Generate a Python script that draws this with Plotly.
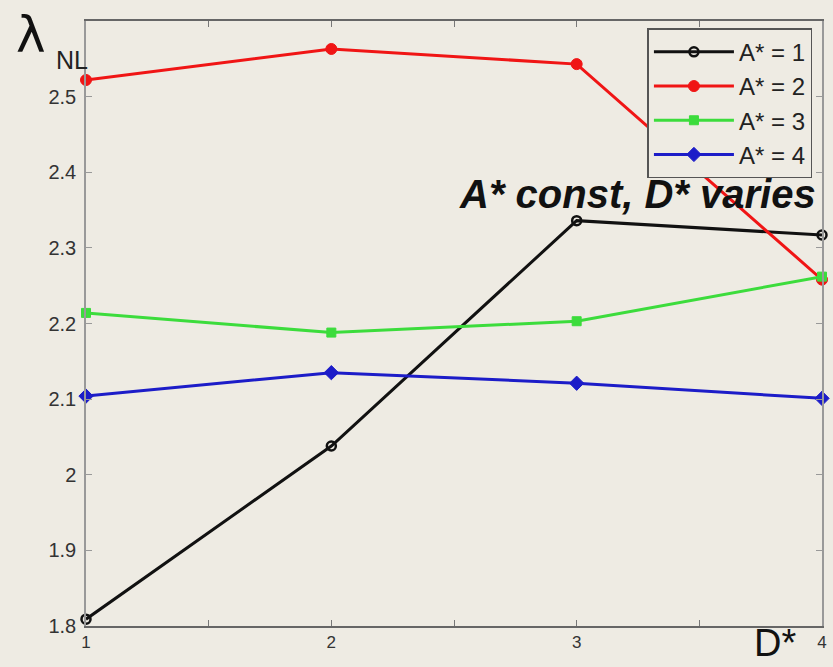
import plotly.graph_objects as go

D_star = [1, 2, 3, 4]
lam_A1 = [1.809, 2.038, 2.336, 2.317]
lam_A2 = [2.522, 2.563, 2.543, 2.258]
lam_A3 = [2.214, 2.188, 2.203, 2.262]
lam_A4 = [2.104, 2.135, 2.121, 2.101]
series_names = ["A* = 1", "A* = 2", "A* = 3", "A* = 4"]

x_tickvals = [1, 1.5, 2, 2.5, 3, 3.5, 4]
x_ticktext = ["1", "", "2", "", "3", "", "4"]
y_tickvals = [1.8, 1.9, 2.0, 2.1, 2.2, 2.3, 2.4, 2.5]
y_ticktext = ["1.8", "1.9", "2", "2.1", "2.2", "2.3", "2.4", "2.5"]

bg = "#EEEBE3"
fig = go.Figure()

styles = [
    dict(color="#111111", symbol="circle-open", size=9, lw=3),
    dict(color="#F01515", symbol="circle", size=11, lw=3),
    dict(color="#3CDC3C", symbol="square", size=9, lw=3),
    dict(color="#1C1CC8", symbol="diamond", size=11, lw=3),
]
for ys, name, st in zip([lam_A1, lam_A2, lam_A3, lam_A4], series_names, styles):
    fig.add_trace(go.Scatter(
        x=D_star, y=ys, name=name, mode="lines+markers",
        line=dict(color=st["color"], width=st["lw"]),
        marker=dict(color=st["color"], symbol=st["symbol"], size=st["size"],
                    line=dict(color=st["color"], width=2.5 if st["symbol"] == "circle-open" else 1)),
        cliponaxis=False,
    ))

fig.update_layout(
    width=833, height=667,
    margin=dict(l=86, r=6, t=21, b=41),
    paper_bgcolor=bg, plot_bgcolor=bg,
    font=dict(family="Liberation Sans, Arial, sans-serif", color="#222"),
    showlegend=True,
    legend=dict(
        x=0.987, y=0.988, xanchor="right", yanchor="top",
        bgcolor=bg, bordercolor="#555", borderwidth=1.5,
        font=dict(size=24, color="#222"),
        itemwidth=80, tracegroupgap=0,
    ),
    xaxis=dict(
        range=[1, 4], tickmode="array", tickvals=x_tickvals, ticktext=x_ticktext,
        ticks="inside", ticklen=6, tickcolor="#777", showgrid=False, zeroline=False,
        showline=True, linecolor="#666", linewidth=2, mirror="ticks",
        tickfont=dict(size=17, color="#333"),
    ),
    yaxis=dict(
        range=[1.8, 2.6], tickmode="array", tickvals=y_tickvals, ticktext=y_ticktext,
        ticks="inside", ticklen=6, tickcolor="#999", showgrid=False, zeroline=False,
        showline=True, linecolor="#999", linewidth=1.5, mirror="ticks",
        tickfont=dict(size=20, color="#333"), ticklabelstandoff=4,
    ),
    annotations=[
        dict(text="<b><i>A* const, D* varies</i></b>", xref="paper", yref="paper",
             x=0.995, y=(626 - 194) / 605, xanchor="right", yanchor="middle",
             showarrow=False, font=dict(size=40, color="#111")),
        dict(text="λ", xref="paper", yref="paper", x=(14 - 86) / 741, y=(626 - 35) / 605,
             xanchor="left", yanchor="middle", showarrow=False,
             font=dict(size=50, color="#111", family="DejaVu Sans")),
        dict(text="NL", xref="paper", yref="paper", x=(54 - 86) / 741, y=(626 - 60) / 605,
             xanchor="left", yanchor="middle", showarrow=False,
             font=dict(size=25, color="#222")),
        dict(text="D*", xref="paper", yref="paper", x=(803 - 86) / 741, y=(626 - 643) / 605,
             xanchor="right", yanchor="middle", showarrow=False,
             font=dict(size=38, color="#111")),
    ],
)

fig.write_html("out.html")
